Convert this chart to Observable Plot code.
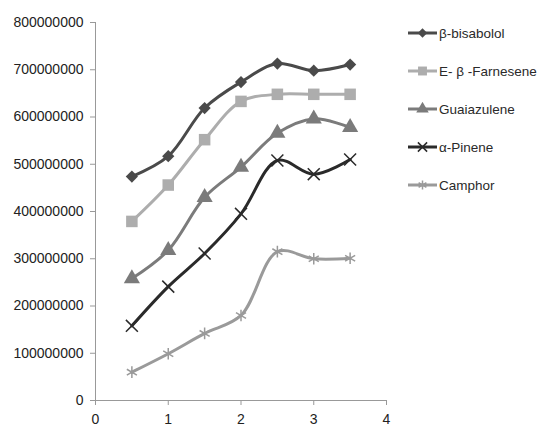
<!DOCTYPE html>
<html>
<head>
<meta charset="utf-8">
<script src="https://cdn.jsdelivr.net/npm/d3@7"></script>
<script src="https://cdn.jsdelivr.net/npm/@observablehq/plot@0.6"></script>
<style>
  html, body { margin: 0; padding: 0; background: #fff; }
  #wrap { position: relative; width: 537px; height: 434px; font-family: "Liberation Sans", "DejaVu Sans", sans-serif; }
  #legend { position: absolute; left: 407px; top: 14px; }
  .item { display: flex; align-items: center; height: 38px; font-size: 13.5px; color: #2a2a2a; }
  .item svg { margin-right: 1px; }
</style>
</head>
<body>
<div id="wrap">
  <div id="chart"></div>
  <div id="legend"></div>
</div>
<script>
const xs = [0.5, 1, 1.5, 2, 2.5, 3, 3.5];
const seriesNames = ["β-bisabolol", "E- β -Farnesene", "Guaiazulene", "α-Pinene", "Camphor"];
const bisabolol = [474e6, 517e6, 619e6, 674e6, 713e6, 698e6, 711e6];
const farnesene = [379e6, 456e6, 552e6, 633e6, 648e6, 648e6, 648e6];
const guaiazulene = [258e6, 318e6, 430e6, 494e6, 566e6, 596e6, 578e6];
const pinene = [158e6, 241e6, 311e6, 395e6, 508e6, 479e6, 510e6];
const camphor = [60e6, 99e6, 142e6, 180e6, 315e6, 300e6, 301e6];
const yTicks = [0, 1e8, 2e8, 3e8, 4e8, 5e8, 6e8, 7e8, 8e8];
const xTicks = [0, 1, 2, 3, 4];

const colors = ["#4a4a4a", "#adadad", "#7b7b7b", "#2a2a2a", "#9a9a9a"];
const symbols = ["diamond2", "square", "triangle", "times", "asterisk"];
const filled = [true, true, true, false, false];
const sizes = [5.5, 6.5, 6, 5.5, 5.5];

const allValues = [bisabolol, farnesene, guaiazulene, pinene, camphor];
const data = [];
seriesNames.forEach((name, i) => {
  xs.forEach((x, j) => data.push({series: name, idx: i, x, y: allValues[i][j]}));
});

const marks = [];
seriesNames.forEach((name, i) => {
  const d = data.filter(r => r.idx === i);
  marks.push(Plot.line(d, {x: "x", y: "y", stroke: colors[i], strokeWidth: 3, curve: "catmull-rom"}));
  marks.push(Plot.dot(d, {
    x: "x", y: "y", symbol: () => symbols[i], r: sizes[i],
    fill: filled[i] ? colors[i] : "none",
    stroke: colors[i], strokeWidth: filled[i] ? 0 : 1.5
  }));
});

const plot = Plot.plot({
  width: 537,
  height: 434,
  marginLeft: 95,
  marginRight: 151,
  marginTop: 22,
  marginBottom: 34,
  style: {fontFamily: "Liberation Sans, DejaVu Sans, sans-serif", fontSize: "14px", color: "#222", background: "#fff"},
  x: {domain: [0, 4], ticks: xTicks, tickSize: 5, tickPadding: 8, label: null, tickFormat: d => String(d)},
  y: {domain: [0, 8e8], ticks: yTicks, tickSize: 5, tickPadding: 6, label: null, tickFormat: d => String(d)},
  symbol: {type: "identity"},
  marks: [
    Plot.axisX({ticks: xTicks, tickSize: 5, tickPadding: 9, stroke: "#999", fill: "#222", fontSize: 14, label: null, tickFormat: d => String(d)}),
    Plot.axisY({ticks: yTicks, tickSize: 5, tickPadding: 7, stroke: "#999", fill: "#222", fontSize: 14, label: null, tickFormat: d => String(d)}),
    Plot.ruleX([0], {stroke: "#999"}),
    Plot.ruleY([0], {stroke: "#999"}),
    ...marks
  ]
});
document.getElementById("chart").appendChild(plot);

// legend
const legend = document.getElementById("legend");
seriesNames.forEach((name, i) => {
  const item = document.createElement("div");
  item.className = "item";
  const sw = d3.create("svg").attr("width", 31).attr("height", 14);
  sw.append("line").attr("x1", 1).attr("x2", 30).attr("y1", 7).attr("y2", 7)
    .attr("stroke", colors[i]).attr("stroke-width", 3);
  const sym = {diamond2: d3.symbolDiamond2, square: d3.symbolSquare, triangle: d3.symbolTriangle, times: d3.symbolTimes, asterisk: d3.symbolAsterisk}[symbols[i]];
  const area = Math.PI * sizes[i] * sizes[i] * 0.6;
  sw.append("path").attr("d", d3.symbol(sym, area)()).attr("transform", "translate(15.5,7)")
    .attr("fill", filled[i] ? colors[i] : "none").attr("stroke", colors[i]).attr("stroke-width", filled[i] ? 0 : 1.5);
  item.appendChild(sw.node());
  const span = document.createElement("span");
  span.textContent = name;
  item.appendChild(span);
  legend.appendChild(item);
});
</script>
</body>
</html>
